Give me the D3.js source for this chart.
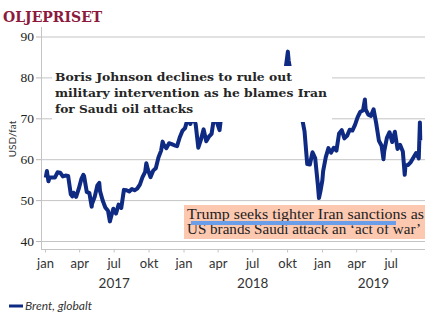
<!DOCTYPE html>
<html>
<head>
<meta charset="utf-8">
<script src="https://cdn.jsdelivr.net/npm/d3@7"></script>
<style>
  body { margin: 0; background: #fff; }
  svg { display: block; }
</style>
</head>
<body>
<svg width="445" height="326"></svg>
<script>
// Brent, USD per fat, [date, price]
var brent2017 = [["2017-01-03",55.5],["2017-01-06",57.1],["2017-01-10",54.6],["2017-01-13",55.5],["2017-01-20",55.5],["2017-01-27",55.5],
    ["2017-02-03",56.8],["2017-02-10",56.7],["2017-02-17",55.8],["2017-02-24",56.0],["2017-03-03",55.9],["2017-03-10",51.4],
    ["2017-03-14",50.9],["2017-03-17",51.8],["2017-03-24",50.8],["2017-03-31",52.8],["2017-04-07",55.2],["2017-04-12",56.2],
    ["2017-04-14",55.9],["2017-04-21",52.0],["2017-04-28",51.7],["2017-05-04",48.4],["2017-05-05",49.1],["2017-05-12",50.8],
    ["2017-05-19",53.6],["2017-05-24",54.2],["2017-05-26",52.2],["2017-06-02",49.9],["2017-06-09",48.2],["2017-06-16",47.4],
    ["2017-06-21",44.8],["2017-06-23",45.5],["2017-06-30",47.9],["2017-07-07",46.7],["2017-07-14",48.9],["2017-07-21",48.1],
    ["2017-07-28",52.5],["2017-08-04",52.4],["2017-08-11",52.1],["2017-08-18",52.7],["2017-08-25",52.4],["2017-09-01",52.8],
    ["2017-09-08",53.8],["2017-09-15",55.6],["2017-09-22",56.9],["2017-09-25",59.0],["2017-09-29",57.5],["2017-10-06",55.6],
    ["2017-10-13",57.2],["2017-10-20",57.8],["2017-10-27",60.4],["2017-11-03",62.1],["2017-11-07",64.3],["2017-11-10",63.5],
    ["2017-11-17",62.7],["2017-11-24",63.9],["2017-12-01",63.7],["2017-12-08",63.4],["2017-12-15",63.2],["2017-12-22",65.3],
    ["2017-12-29",66.9]];
var brent2018 = [["2018-01-05",67.6],["2018-01-12",69.9],["2018-01-15",70.3],["2018-01-19",68.6],["2018-01-26",70.5],["2018-02-02",68.6],
    ["2018-02-09",62.8],["2018-02-16",64.8],["2018-02-23",67.3],["2018-03-02",64.4],["2018-03-09",65.5],["2018-03-16",66.2],
    ["2018-03-23",70.5],["2018-03-29",69.3],["2018-04-06",67.1],["2018-04-13",72.6],["2018-04-20",74.1],["2018-04-27",74.6],
    ["2018-05-04",74.9],["2018-05-11",77.1],["2018-05-17",79.3],["2018-05-25",76.4],["2018-06-01",76.8],["2018-06-08",76.5],
    ["2018-06-15",73.4],["2018-06-22",75.6],["2018-06-29",79.4],["2018-07-06",77.1],["2018-07-13",75.3],["2018-07-20",73.1],
    ["2018-07-27",74.3],["2018-08-03",73.2],["2018-08-10",72.8],["2018-08-16",70.8],["2018-08-24",75.8],["2018-08-31",77.4],
    ["2018-09-07",76.8],["2018-09-14",78.1],["2018-09-21",78.8],["2018-09-28",82.7],["2018-10-03",86.3],["2018-10-05",84.2],
    ["2018-10-12",80.4],["2018-10-19",79.8],["2018-10-26",77.6],["2018-11-02",72.8],["2018-11-09",70.2],["2018-11-16",66.8],
    ["2018-11-23",58.8],["2018-11-30",58.7],["2018-12-07",61.7],["2018-12-14",60.3],["2018-12-21",53.8],["2018-12-24",50.5],
    ["2018-12-28",52.2]];
var brent2019 = [["2019-01-02",54.9],["2019-01-04",57.1],["2019-01-11",60.5],["2019-01-18",62.7],["2019-01-25",61.6],["2019-02-01",62.8],
    ["2019-02-08",62.1],["2019-02-15",66.3],["2019-02-22",67.1],["2019-03-01",65.1],["2019-03-08",65.7],["2019-03-15",67.2],
    ["2019-03-22",67.0],["2019-03-29",68.4],["2019-04-05",70.3],["2019-04-12",71.6],["2019-04-19",71.9],["2019-04-24",74.6],
    ["2019-04-26",72.2],["2019-05-03",70.9],["2019-05-10",70.6],["2019-05-17",72.2],["2019-05-24",68.7],["2019-05-31",64.5],
    ["2019-06-07",63.3],["2019-06-12",60.0],["2019-06-14",62.0],["2019-06-21",65.2],["2019-06-28",66.6],["2019-07-05",64.2],
    ["2019-07-12",66.7],["2019-07-19",62.5],["2019-07-26",63.5],["2019-08-02",61.9],["2019-08-07",56.2],["2019-08-09",58.5],
    ["2019-08-16",58.6],["2019-08-23",59.3],["2019-08-30",60.4],["2019-09-06",61.5],["2019-09-13",60.2],["2019-09-16",69.0],
    ["2019-09-17",64.6]];

var yTicks = [40, 50, 60, 70, 80, 90];
var monthNames = ["jan", "apr", "jul", "okt"];
var years = [2017, 2018, 2019];
var headline1 = ["Boris Johnson declines to rule out",
                 "military intervention as he blames Iran",
                 "for Saudi oil attacks"];
var headline2 = ["Trump seeks tighter Iran sanctions as",
                 "US brands Saudi attack an \u2018act of war\u2019"];

function drawOilChart()
{
    const left = 41;
    const right = 425;
    const axisY = 249.5;

    var svg = d3.select("svg");
    var parse = d3.timeParse("%Y-%m-%d");
    var series = brent2017.concat(brent2018, brent2019)
                    .map(function (d) { return {date: parse(d[0]), value: d[1]}; });

    var xScale = d3.scaleTime()
                    .domain([new Date(2017, 0, 1), new Date(2019, 0, 1)])
                    .range([45, 322]);
    var yScale = d3.scaleLinear()
                    .domain([40, 90])
                    .range([241, 36.5]);

    // title
    svg.append("text")
        .attr("x", 3)
        .attr("y", 22)
        .style("font-family", "'DejaVu Serif', serif")
        .style("font-weight", "bold")
        .style("font-size", "14px")
        .style("fill", "#8b1a3c")
        .text("OLJEPRISET");

    // gridlines
    svg.append("g")
        .attr("transform", `translate(${left}, 0)`)
        .call(d3.axisLeft(yScale).tickValues(yTicks).tickSize(-(right - left)).tickFormat(""))
        .call(g => g.select(".domain").remove())
        .call(g => g.selectAll("line").attr("stroke", "#c4c4c4"));

    // y axis with ticks and labels
    var yAxis = svg.append("g")
        .attr("transform", `translate(${left}, 0)`)
        .call(d3.axisLeft(yScale).tickValues(yTicks).tickSize(5).tickPadding(2));
    yAxis.select(".domain").remove();
    yAxis.selectAll("line").attr("stroke", "#b8b8b8");
    yAxis.selectAll("text")
        .style("font-family", "'Liberation Serif', serif")
        .style("font-size", "13.5px")
        .style("fill", "#222");
    svg.append("line")
        .attr("x1", left + 0.5).attr("x2", left + 0.5)
        .attr("y1", 27).attr("y2", axisY)
        .attr("stroke", "#c4c4c4");

    svg.append("text")
        .attr("transform", "translate(16, 139) rotate(-90)")
        .attr("text-anchor", "middle")
        .style("font-family", "Lato, sans-serif")
        .style("font-size", "10px")
        .style("fill", "#333")
        .text("USD/fat");

    // x axis, quarterly ticks
    var quarters = d3.timeMonth.every(3).range(new Date(2017, 0, 1), new Date(2019, 8, 1));
    var xAxis = svg.append("g")
        .attr("transform", `translate(0, ${axisY})`)
        .call(d3.axisBottom(xScale)
                .tickValues(quarters)
                .tickSize(3)
                .tickPadding(6)
                .tickFormat(d => monthNames[d.getMonth() / 3]));
    xAxis.select(".domain").remove();
    xAxis.selectAll("line").attr("stroke", "#c4c4c4");
    xAxis.selectAll("text")
        .style("font-family", "Lato, sans-serif")
        .style("font-size", "13px")
        .style("fill", "#333");
    svg.append("line")
        .attr("x1", left).attr("x2", right)
        .attr("y1", axisY).attr("y2", axisY)
        .attr("stroke", "#c4c4c4");

    svg.selectAll(".year")
        .data(years)
        .enter()
        .append("text")
        .attr("class", "year")
        .attr("x", y => (xScale(new Date(y, 0, 1)) + Math.min(xScale(new Date(y + 1, 0, 1)), right)) / 2)
        .attr("y", 288)
        .attr("text-anchor", "middle")
        .style("font-family", "Lato, sans-serif")
        .style("font-size", "13.5px")
        .style("fill", "#333")
        .text(y => y);

    // price line
    var line = d3.line()
        .x(d => xScale(d.date))
        .y(d => yScale(d.value));

    svg.append("path")
        .attr("d", line(series))
        .attr("fill", "none")
        .attr("stroke", "#0f2a82")
        .attr("stroke-width", 4)
        .attr("stroke-linejoin", "round");

    // first headline sits on a white card over the line
    svg.append("rect")
        .attr("x", 52).attr("y", 66)
        .attr("width", 280).attr("height", 56)
        .attr("fill", "#fff");
    var lens1 = [237, 272, 138];
    svg.selectAll(".hl1")
        .data(headline1)
        .enter()
        .append("text")
        .attr("class", "hl1")
        .attr("x", 55)
        .attr("y", (d, i) => 81 + i * 16)
        .attr("textLength", (d, i) => lens1[i])
        .attr("lengthAdjust", "spacingAndGlyphs")
        .style("font-family", "'DejaVu Serif', serif")
        .style("font-weight", "bold")
        .style("font-size", "11.5px")
        .style("fill", "#262626")
        .text(d => d);

    // second headline, peach card with a blue marker
    svg.append("rect")
        .attr("x", 184).attr("y", 205)
        .attr("width", 241).attr("height", 34)
        .attr("fill", "#fdc8b0");
    var lens2 = [237, 234];
    svg.selectAll(".hl2")
        .data(headline2)
        .enter()
        .append("text")
        .attr("class", "hl2")
        .attr("x", 187)
        .attr("y", (d, i) => 219 + i * 15)
        .attr("textLength", (d, i) => lens2[i])
        .attr("lengthAdjust", "spacingAndGlyphs")
        .style("font-family", "'Liberation Serif', serif")
        .style("font-size", "15.5px")
        .style("fill", "#1e1e1e")
        .text(d => d);
    svg.append("rect")
        .attr("x", 191).attr("y", 221)
        .attr("width", 205).attr("height", 4)
        .attr("fill", "#6b9ee9");

    // legend
    svg.append("line")
        .attr("x1", 9).attr("x2", 23)
        .attr("y1", 306).attr("y2", 306)
        .attr("stroke", "#0f2a82")
        .attr("stroke-width", 3);
    svg.append("text")
        .attr("x", 25)
        .attr("y", 310)
        .style("font-family", "Lato, sans-serif")
        .style("font-style", "italic")
        .style("font-size", "12px")
        .style("fill", "#333")
        .text("Brent, globalt");
}

drawOilChart();
</script>
</body>
</html>
